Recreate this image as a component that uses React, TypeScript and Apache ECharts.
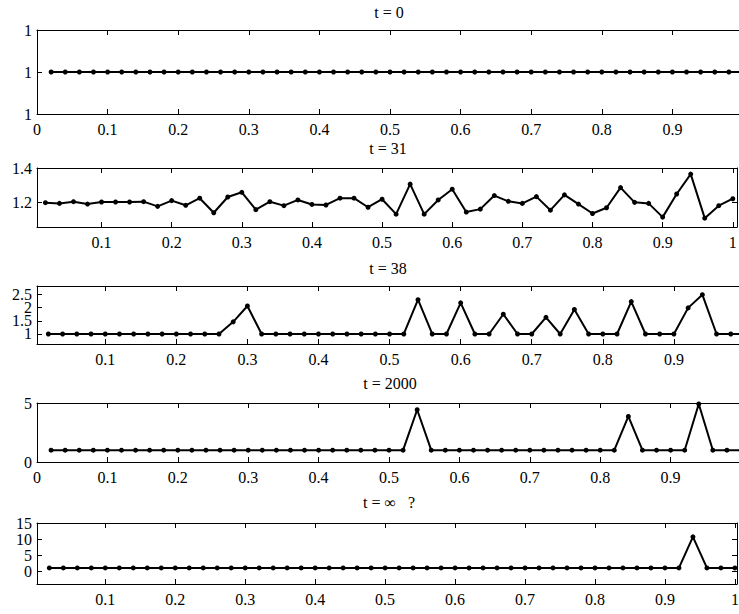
import React, { useEffect, useRef } from "react";
import * as echarts from "echarts";

const xs = [
  0.02, 0.04, 0.06, 0.08, 0.1, 0.12, 0.14, 0.16, 0.18, 0.2,
  0.22, 0.24, 0.26, 0.28, 0.3, 0.32, 0.34, 0.36, 0.38, 0.4,
  0.42, 0.44, 0.46, 0.48, 0.5, 0.52, 0.54, 0.56, 0.58, 0.6,
  0.62, 0.64, 0.66, 0.68, 0.7, 0.72, 0.74, 0.76, 0.78, 0.8,
  0.82, 0.84, 0.86, 0.88, 0.9, 0.92, 0.94, 0.96, 0.98, 1.0,
];

const titles = ["t = 0", "t = 31", "t = 38", "t = 2000", "t = \u221e   ?"];

const vT0 = [
  1, 1, 1, 1, 1, 1, 1, 1, 1, 1,
  1, 1, 1, 1, 1, 1, 1, 1, 1, 1,
  1, 1, 1, 1, 1, 1, 1, 1, 1, 1,
  1, 1, 1, 1, 1, 1, 1, 1, 1, 1,
  1, 1, 1, 1, 1, 1, 1, 1, 1, 1,
];

const vT31 = [
  1.2, 1.196, 1.206, 1.192, 1.204, 1.204, 1.204, 1.206, 1.179, 1.212,
  1.185, 1.226, 1.142, 1.233, 1.26, 1.16, 1.206, 1.183, 1.216, 1.19,
  1.187, 1.226, 1.226, 1.174, 1.22, 1.134, 1.307, 1.134, 1.216, 1.278,
  1.146, 1.163, 1.241, 1.208, 1.196, 1.235, 1.157, 1.245, 1.192, 1.138,
  1.171, 1.287, 1.202, 1.196, 1.117, 1.25, 1.365, 1.111, 1.183, 1.223,
];

const vT38 = [
  1, 1, 1, 1, 1, 1, 1, 1, 1, 1,
  1, 1, 1, 1.46, 2.06, 1, 1, 1, 1, 1,
  1, 1, 1, 1, 1, 1, 2.3, 1, 1, 2.18,
  1, 1, 1.75, 1, 1, 1.63, 1, 1.93, 1, 1,
  1, 2.23, 1, 1, 1, 1.99, 2.49, 1, 1, 1,
];

const vT2000 = [
  1, 1, 1, 1, 1, 1, 1, 1, 1, 1,
  1, 1, 1, 1, 1, 1, 1, 1, 1, 1,
  1, 1, 1, 1, 1, 1, 4.43, 1, 1, 1,
  1, 1, 1, 1, 1, 1, 1, 1, 1, 1,
  1, 3.86, 1, 1, 1, 1, 4.92, 1, 1, 1,
];

const vTInf = [
  1, 1, 1, 1, 1, 1, 1, 1, 1, 1,
  1, 1, 1, 1, 1, 1, 1, 1, 1, 1,
  1, 1, 1, 1, 1, 1, 1, 1, 1, 1,
  1, 1, 1, 1, 1, 1, 1, 1, 1, 1,
  1, 1, 1, 1, 1, 1, 10.7, 1, 1, 1,
];

const xTicks = [0, 0.1, 0.2, 0.3, 0.4, 0.5, 0.6, 0.7, 0.8, 0.9, 1];
const xLabels0to09 = [0, 0.1, 0.2, 0.3, 0.4, 0.5, 0.6, 0.7, 0.8, 0.9];
const xLabels01to09 = [0.1, 0.2, 0.3, 0.4, 0.5, 0.6, 0.7, 0.8, 0.9];
const xLabels01to1 = [0.1, 0.2, 0.3, 0.4, 0.5, 0.6, 0.7, 0.8, 0.9, 1];
const yTicksT0 = [0.9999, 1, 1.0001];
const yTicksT31 = [1.2, 1.4];
const yTicksT38 = [1, 1.5, 2, 2.5];
const yTicksT2000 = [0, 5];
const yTicksTInf = [0, 5, 10, 15];

const FONT = "Liberation Serif";
const FS = 16;

type Panel = {
  values: number[];
  top: number;
  height: number;
  width: number;
  xmin: number;
  xmax: number;
  ymin: number;
  ymax: number;
  xl: number[];
  yt: number[];
  yfmt: (v: number) => string;
  titleX: number;
  titleY: number;
};

const panels: Panel[] = [
  { values: vT0, top: 30, height: 84, width: 706, xmin: 0, xmax: 1, ymin: 0.9999, ymax: 1.0001, xl: xLabels0to09, yt: yTicksT0, yfmt: () => "1", titleX: 389, titleY: 12 },
  { values: vT31, top: 168, height: 59, width: 700, xmin: 0.008, xmax: 1.006, ymin: 1.06, ymax: 1.4, xl: xLabels01to1, yt: yTicksT31, yfmt: (v) => v.toFixed(1), titleX: 388, titleY: 148 },
  { values: vT38, top: 286, height: 58, width: 708, xmin: 0.004, xmax: 1.0, ymin: 0.62, ymax: 2.82, xl: xLabels01to09, yt: yTicksT38, yfmt: (v) => String(v), titleX: 388, titleY: 268 },
  { values: vT2000, top: 403, height: 59, width: 704, xmin: 0, xmax: 1, ymin: 0, ymax: 5, xl: xLabels0to09, yt: yTicksT2000, yfmt: (v) => String(v), titleX: 390, titleY: 383 },
  { values: vTInf, top: 523, height: 61, width: 700, xmin: 0.0024, xmax: 1.003, ymin: -4, ymax: 15, xl: xLabels01to1, yt: yTicksTInf, yfmt: (v) => String(v), titleX: 389, titleY: 502 },
];

const LEFT = 37;

function buildOption() {
  const grid: any[] = [];
  const xAxis: any[] = [];
  const yAxis: any[] = [];
  const series: any[] = [];
  const graphic: any[] = [];
  const lineStyle = { color: "#000", width: 1 };
  panels.forEach((p, i) => {
    grid.push({ left: LEFT, top: p.top, width: p.width, height: p.height, containLabel: false });
    const xBase = {
      type: "value",
      gridIndex: i,
      min: p.xmin,
      max: p.xmax,
      splitLine: { show: false },
      axisLine: { show: true, onZero: false, lineStyle },
      axisTick: { show: true, inside: true, length: 5, lineStyle, customValues: xTicks },
    };
    const xIdx = xAxis.length;
    xAxis.push({
      ...xBase,
      position: "bottom",
      axisLabel: {
        show: true,
        customValues: p.xl,
        hideOverlap: false,
        margin: 7,
        color: "#000",
        fontFamily: FONT,
        fontSize: FS,
        formatter: (v: number) => String(Math.round(v * 10) / 10),
      },
    });
    xAxis.push({ ...xBase, position: "top", axisLabel: { show: false } });
    const yBase = {
      type: "value",
      gridIndex: i,
      min: p.ymin,
      max: p.ymax,
      splitLine: { show: false },
      axisLine: { show: true, onZero: false, lineStyle },
      axisTick: { show: true, inside: true, length: 5, lineStyle, customValues: p.yt },
    };
    const labelBase = {
      show: true,
      hideOverlap: false,
      margin: 5,
      color: "#000",
      fontFamily: FONT,
      fontSize: FS,
      formatter: p.yfmt,
    };
    // split labels into two alternating sets so that tightly-packed labels are all drawn
    const setA = p.yt.filter((_, k) => k % 2 === 0);
    const setB = p.yt.filter((_, k) => k % 2 === 1);
    const yIdx = yAxis.length;
    yAxis.push({
      ...yBase,
      position: "left",
      axisLabel: { ...labelBase, customValues: setA },
    });
    yAxis.push({ ...yBase, position: "right", axisLabel: { show: false } });
    yAxis.push({
      ...yBase,
      position: "left",
      offset: 0,
      axisLine: { show: false },
      axisTick: { show: false },
      axisLabel: { ...labelBase, customValues: setB },
    });
    series.push({
      type: "line",
      xAxisIndex: xIdx,
      yAxisIndex: yIdx,
      data: xs.map((x, k) => [x, p.values[k]]),
      symbol: "circle",
      symbolSize: 5,
      showSymbol: true,
      lineStyle: { color: "#000", width: 2 },
      itemStyle: { color: "#000" },
      clip: true,
    });
    graphic.push({
      type: "text",
      x: p.titleX,
      y: p.titleY,
      style: {
        text: titles[i],
        fill: "#000",
        fontFamily: FONT,
        fontSize: FS,
        textAlign: "center",
        textVerticalAlign: "middle",
      },
    });
  });
  return { animation: false, backgroundColor: "#fff", grid, xAxis, yAxis, series, graphic };
}

export default function App() {
  const ref = useRef<HTMLDivElement>(null);
  useEffect(() => {
    if (!ref.current) return;
    const chart = echarts.init(ref.current, undefined, { renderer: "svg" });
    chart.setOption(buildOption() as any);
    return () => chart.dispose();
  }, []);
  return (
    <div style={{ position: "fixed", left: 0, top: 0, width: 739, height: 614, overflow: "hidden", background: "#fff" }}>
      <div ref={ref} style={{ width: 760, height: 614 }} />
    </div>
  );
}
